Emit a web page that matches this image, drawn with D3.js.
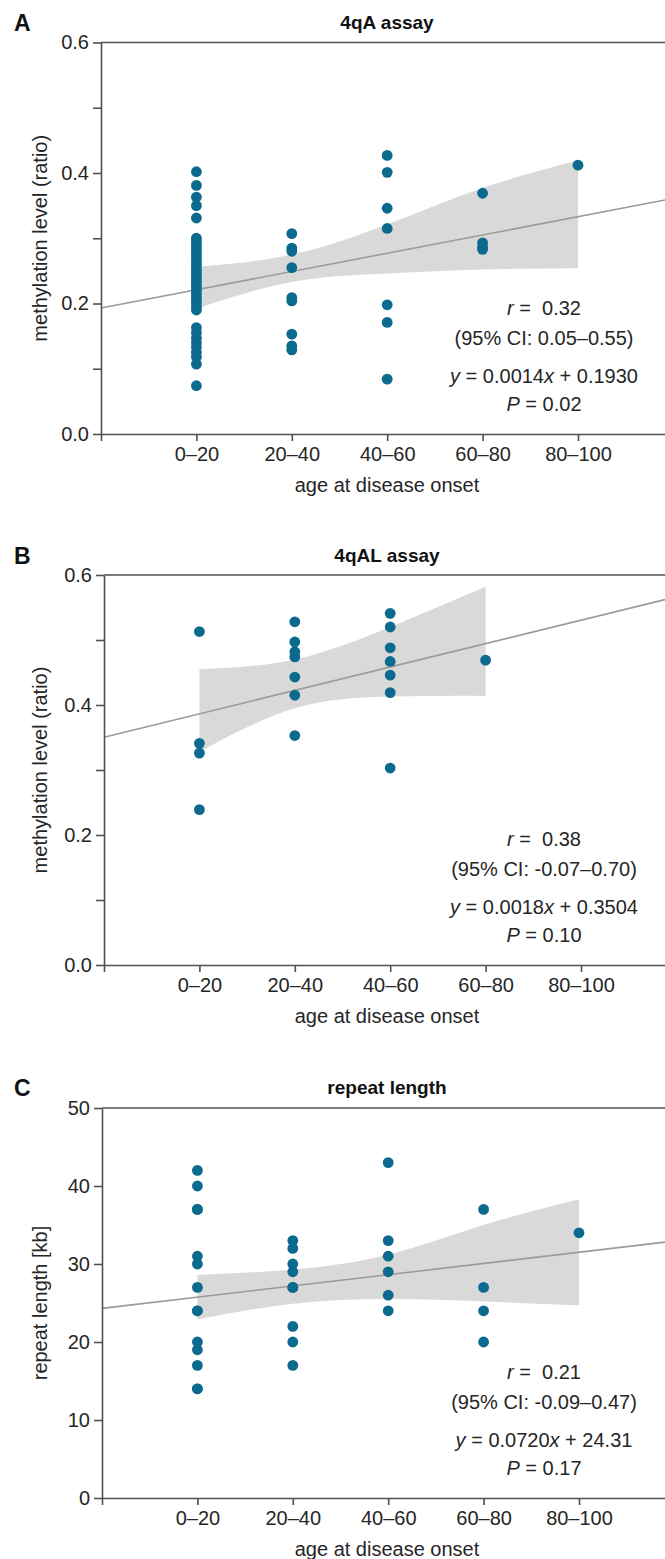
<!DOCTYPE html>
<html><head><meta charset="utf-8">
<script src="https://cdn.jsdelivr.net/npm/d3@7"></script>
<style>
body{margin:0;background:#fff}
svg{display:block}
text{font-family:"Liberation Sans",Arial,Helvetica,sans-serif;white-space:pre}
</style>
</head><body>
<svg id="chart" width="665" height="1559"></svg>
<script>
// ---------- data ----------
const categories = ["0–20", "20–40", "40–60", "60–80", "80–100"];
const categoryAges = [20, 40, 60, 80, 100];

// Panel A: 4qA assay, methylation level (ratio) per age group
const aPoints = [
  [0.402, 0.381, 0.363, 0.350, 0.331, 0.300, 0.295, 0.290, 0.285, 0.280, 0.275, 0.270, 0.265,
   0.260, 0.255, 0.250, 0.245, 0.240, 0.235, 0.230, 0.225, 0.220, 0.215, 0.210, 0.205, 0.200,
   0.195, 0.190, 0.163, 0.155, 0.147, 0.140, 0.133, 0.125, 0.118, 0.107, 0.074],
  [0.307, 0.285, 0.280, 0.255, 0.209, 0.204, 0.153, 0.135, 0.129],
  [0.427, 0.401, 0.346, 0.315, 0.198, 0.171, 0.084],
  [0.369, 0.293, 0.287, 0.283],
  [0.412]
];
const aFit = [0.0014, 0.1930];            // slope, intercept
const aBandAges = [20, 40, 60, 80, 100];
const aBandUpper = [0.256, 0.275, 0.321, 0.377, 0.419];
const aBandLower = [0.192, 0.233, 0.246, 0.252, 0.254];
const aYTicks = [0, 0.1, 0.2, 0.3, 0.4, 0.5, 0.6];
const aYLabels = ["0.0", "", "0.2", "", "0.4", "", "0.6"];
const aStats = ["0.32", "(95% CI: 0.05–0.55)", "0.0014", "0.1930", "0.02"];

// Panel B: 4qAL assay
const bPoints = [
  [0.513, 0.341, 0.326, 0.239],
  [0.528, 0.497, 0.482, 0.474, 0.443, 0.415, 0.353],
  [0.541, 0.520, 0.488, 0.467, 0.446, 0.419, 0.303],
  [0.469],
  []
];
const bFit = [0.0018, 0.3504];
const bBandAges = [20, 40, 60, 80];
const bBandUpper = [0.455, 0.470, 0.520, 0.582];
const bBandLower = [0.328, 0.395, 0.413, 0.414];
const bYTicks = [0, 0.1, 0.2, 0.3, 0.4, 0.5, 0.6];
const bYLabels = ["0.0", "", "0.2", "", "0.4", "", "0.6"];
const bStats = ["0.38", "(95% CI: -0.07–0.70)", "0.0018", "0.3504", "0.10"];

// Panel C: repeat length [kb]
const cPoints = [
  [42, 40, 37, 37, 31, 30, 27, 24, 24, 20, 19, 17, 14, 14],
  [33, 32, 30, 29, 27, 27, 22, 20, 17],
  [43, 33, 31, 29, 26, 24],
  [37, 27, 24, 20],
  [34]
];
const cFit = [0.0720, 24.31];
const cBandAges = [20, 40, 60, 80, 100];
const cBandUpper = [28.6, 29.3, 31.2, 35.0, 38.3];
const cBandLower = [22.9, 24.9, 25.5, 25.2, 24.7];
const cYTicks = [0, 10, 20, 30, 40, 50];
const cYLabels = ["0", "10", "20", "30", "40", "50"];
const cStats = ["0.21", "(95% CI: -0.09–0.47)", "0.0720", "24.31", "0.17"];

// ---------- drawing ----------
const W = 665;
const svg = d3.select("#chart");
const dotColor = "#0c6a8e";
const axisColor = "#505050";
const textColor = "#262626";
const pxPerYear = 95.4 / 20;

function drawPanel(p) {
  const g = svg.append("g");
  const xMax = (W - p.left) / pxPerYear;
  const x = d3.scaleLinear().domain([0, xMax]).range([p.left, W]);
  const y = d3.scaleLinear().domain([p.yTicks[0], p.yTicks[p.yTicks.length - 1]]).range([p.bottom, p.top]);

  // confidence band
  const band = p.bandAges.map((a, i) => ({a: a, lo: p.bandLower[i], hi: p.bandUpper[i]}));
  g.append("path").datum(band)
    .attr("d", d3.area().x(d => x(d.a)).y0(d => y(d.lo)).y1(d => y(d.hi)).curve(d3.curveNatural))
    .attr("fill", "#d9d9d9");

  // regression line
  g.append("line")
    .attr("x1", x(0)).attr("y1", y(p.fit[1]))
    .attr("x2", x(xMax)).attr("y2", y(p.fit[1] + p.fit[0] * xMax))
    .attr("stroke", "#9b9b9b").attr("stroke-width", 1.6);

  // points
  const pts = [];
  p.points.forEach((arr, i) => arr.forEach(v => pts.push({a: categoryAges[i], v: v})));
  g.selectAll("circle.dot").data(pts).enter().append("circle")
    .attr("class", "dot")
    .attr("cx", d => x(d.a)).attr("cy", d => y(d.v)).attr("r", 5.4)
    .attr("fill", dotColor);

  // top frame line
  g.append("line").attr("x1", p.left).attr("x2", W)
    .attr("y1", y.range()[1]).attr("y2", y.range()[1])
    .attr("stroke", axisColor).attr("stroke-width", 1.6);

  // y axis
  const ya = g.append("g").attr("transform", `translate(${p.left},0)`)
    .call(d3.axisLeft(y).tickValues(p.yTicks).tickSize(8).tickSizeOuter(0).tickPadding(4)
      .tickFormat((d, i) => p.yLabels[i]));
  // x axis
  const xa = g.append("g").attr("transform", `translate(0,${p.bottom})`)
    .call(d3.axisBottom(x).tickValues([0].concat(categoryAges)).tickSize(7).tickSizeOuter(0).tickPadding(6)
      .tickFormat((d, i) => i === 0 ? "" : categories[i - 1]));
  [ya, xa].forEach(a => {
    a.selectAll("path.domain").attr("stroke", axisColor).attr("stroke-width", 1.6);
    a.selectAll(".tick line").attr("stroke", axisColor).attr("stroke-width", 1.6);
    a.selectAll(".tick text").attr("fill", textColor).style("font-size", "20px")
      .style("font-family", '"Liberation Sans",Arial,sans-serif');
  });

  // title
  g.append("text").attr("x", 387).attr("y", p.titleY).attr("text-anchor", "middle")
    .attr("dominant-baseline", "central").style("font-size", "19px").style("font-weight", "bold")
    .attr("fill", "#111").text(p.title);
  // panel letter
  g.append("text").attr("x", 14).attr("y", p.titleY + 1).attr("dominant-baseline", "central")
    .style("font-size", "23px").style("font-weight", "bold").attr("fill", "#111").text(p.letter);
  // axis titles
  g.append("text").attr("x", 387).attr("y", p.bottom + 51).attr("text-anchor", "middle")
    .attr("dominant-baseline", "central").style("font-size", "20px").attr("fill", textColor)
    .text("age at disease onset");
  g.append("text").attr("transform", `translate(40,${(p.top + p.bottom) / 2}) rotate(-90)`)
    .attr("text-anchor", "middle").attr("dominant-baseline", "central")
    .style("font-size", "20px").attr("fill", textColor).text(p.yTitle);

  // statistics annotation
  const cx = 544;
  const s = p.stats;
  const t1 = g.append("text").attr("x", cx).attr("y", p.bottom - 126).attr("text-anchor", "middle")
    .attr("dominant-baseline", "central").style("font-size", "20px").attr("fill", textColor);
  t1.append("tspan").style("font-style", "italic").text("r");
  t1.append("tspan").text(" =  " + s[0]);
  g.append("text").attr("x", cx).attr("y", p.bottom - 96).attr("text-anchor", "middle")
    .attr("dominant-baseline", "central").style("font-size", "20px").attr("fill", textColor).text(s[1]);
  const t3 = g.append("text").attr("x", cx).attr("y", p.bottom - 58).attr("text-anchor", "middle")
    .attr("dominant-baseline", "central").style("font-size", "20px").attr("fill", textColor);
  t3.append("tspan").style("font-style", "italic").text("y");
  t3.append("tspan").text(" = " + s[2]);
  t3.append("tspan").style("font-style", "italic").text("x");
  t3.append("tspan").text(" + " + s[3]);
  const t4 = g.append("text").attr("x", cx).attr("y", p.bottom - 30).attr("text-anchor", "middle")
    .attr("dominant-baseline", "central").style("font-size", "20px").attr("fill", textColor);
  t4.append("tspan").style("font-style", "italic").text("P");
  t4.append("tspan").text(" = " + s[4]);
}

drawPanel({letter: "A", title: "4qA assay", yTitle: "methylation level (ratio)",
  left: 101, top: 42.5, bottom: 434, titleY: 22,
  points: aPoints, fit: aFit, bandAges: aBandAges, bandUpper: aBandUpper, bandLower: aBandLower,
  yTicks: aYTicks, yLabels: aYLabels, stats: aStats});
drawPanel({letter: "B", title: "4qAL assay", yTitle: "methylation level (ratio)",
  left: 104, top: 575, bottom: 965, titleY: 555,
  points: bPoints, fit: bFit, bandAges: bBandAges, bandUpper: bBandUpper, bandLower: bBandLower,
  yTicks: bYTicks, yLabels: bYLabels, stats: bStats});
drawPanel({letter: "C", title: "repeat length", yTitle: "repeat length [kb]",
  left: 102, top: 1108, bottom: 1498, titleY: 1087,
  points: cPoints, fit: cFit, bandAges: cBandAges, bandUpper: cBandUpper, bandLower: cBandLower,
  yTicks: cYTicks, yLabels: cYLabels, stats: cStats});
</script>
</body></html>
